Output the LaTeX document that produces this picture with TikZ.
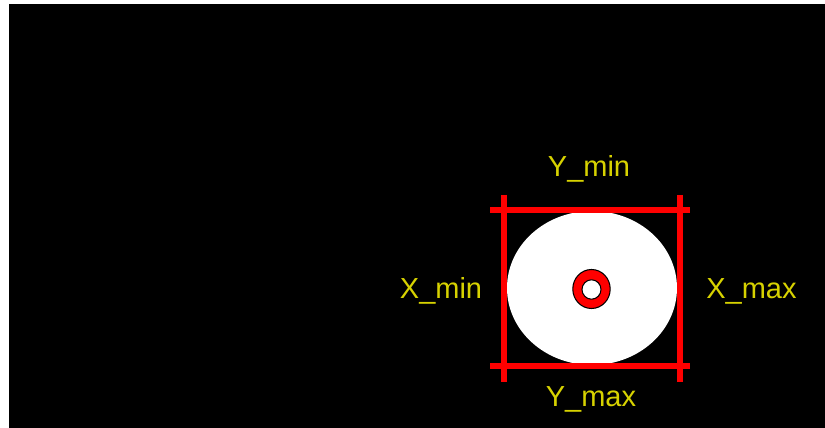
\documentclass[tikz,border=0pt]{standalone}
\usepackage{fontspec}
\setmainfont{Liberation Sans}
\definecolor{rotulo}{RGB}{215,210,0}

\begin{document}
\begin{tikzpicture}[
    x=0.02cm,
    y=-0.02cm,
    font=\fontsize{16.5}{19}\selectfont,
    limite/.style={red,line width=3.4pt},
    rotulo/.style={text=rotulo,anchor=base,inner sep=0pt},
    aro/.style={draw=black,line width=0.6pt}
]
    % Fondo
    \fill[white] (0,0) rectangle (825,428);
    \fill[black] (9,4) rectangle (825,428);

    % Objeto
    \fill[white] (592,288) ellipse [x radius=85, y radius=77];
    \filldraw[aro,fill=red] (591.5,289) ellipse [x radius=18.7, y radius=19.5];
    \filldraw[aro,fill=white] (591.5,289.5) ellipse [x radius=9.5, y radius=9.7];

    % Caja envolvente
    \coordinate (ymin-a) at (490,210);
    \coordinate (ymin-b) at (690,210);
    \coordinate (ymax-a) at (490,366);
    \coordinate (ymax-b) at (690,366);
    \coordinate (xmin-a) at (504,195);
    \coordinate (xmin-b) at (504,382);
    \coordinate (xmax-a) at (680,195);
    \coordinate (xmax-b) at (680,382);
    \draw[limite] (ymin-a) -- (ymin-b);
    \draw[limite] (ymax-a) -- (ymax-b);
    \draw[limite] (xmin-a) -- (xmin-b);
    \draw[limite] (xmax-a) -- (xmax-b);

    % Rotulos
    \node[rotulo] (ymin) at (589,177) {Y\_min};
    \node[rotulo] (ymax) at (591,407) {Y\_max};
    \node[rotulo] (xmin) at (441,299) {X\_min};
    \node[rotulo] (xmax) at (751.5,299) {X\_max};
\end{tikzpicture}
\end{document}
